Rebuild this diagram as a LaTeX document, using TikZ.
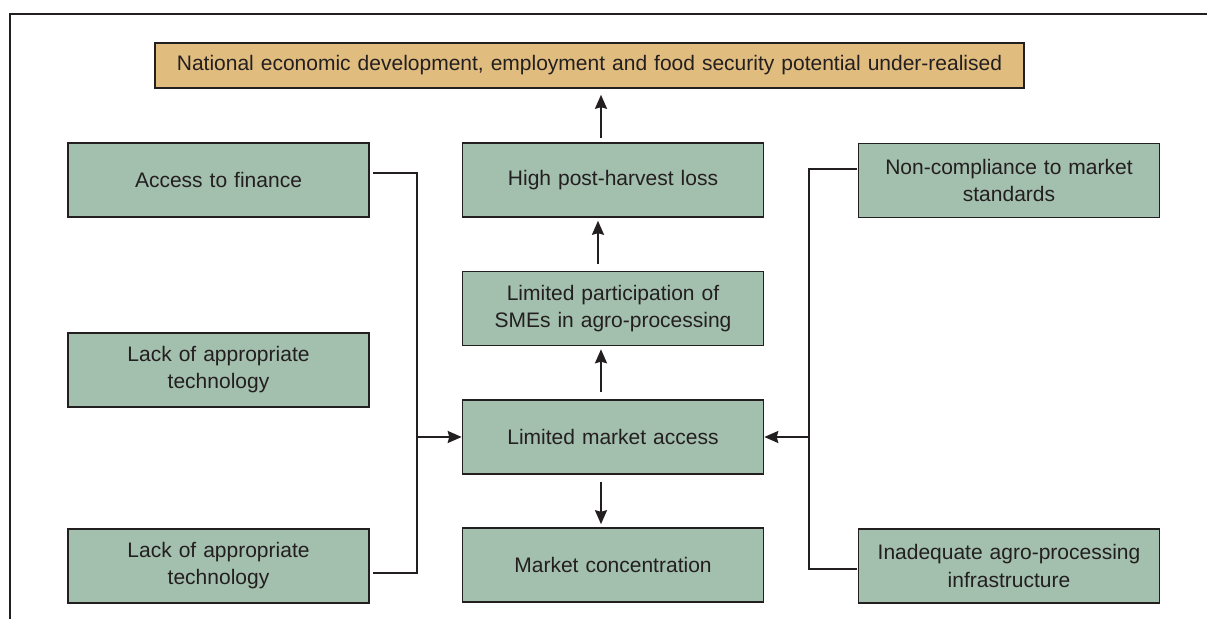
\documentclass[tikz,border=0pt]{standalone}
\usepackage{fontspec}
\setmainfont{Liberation Sans}
\usetikzlibrary{arrows.meta}
\definecolor{boxgreen}{RGB}{163,191,173}
\definecolor{boxtan}{RGB}{224,188,126}
\definecolor{inkgrey}{RGB}{35,31,32}
\begin{document}
\begin{tikzpicture}[
	x=0.5pt, y=-0.5pt,
	font=\fontsize{10.5}{13.5}\selectfont,
	text=inkgrey,
	cause/.style={draw=inkgrey, line width=0.8pt, fill=boxgreen, minimum width=150.5pt, minimum height=37pt, text width=140pt, align=center, inner sep=0pt},
	impact/.style={cause, fill=boxtan, minimum width=434.5pt, minimum height=22.5pt, text width=430pt},
	link/.style={draw=inkgrey, line width=1pt},
	flow/.style={link, -{Stealth[length=7pt,width=6pt,inset=0.8pt]}}]
   \useasboundingbox (0,0) rectangle (1207,619);
   \draw[inkgrey, line width=0.8pt] (10,619) -- (10,14) -- (1207,14);
   \node[impact] (potential) at (589.5,65.5) {National economic development, employment and food security potential under-realised};
   \node[cause] (finance) at (218.5,180) {Access to finance};
   \node[cause] (techa) at (218.5,370) {Lack of appropriate\\technology};
   \node[cause] (techb) at (218.5,566) {Lack of appropriate\\technology};
   \node[cause] (loss) at (613,180) {High post-harvest loss};
   \node[cause] (smes) at (613,308.5) {Limited participation of\\SMEs in agro-processing};
   \node[cause] (access) at (613,437) {Limited market access};
   \node[cause] (concentration) at (613,565) {Market concentration};
   \node[cause] (standards) at (1009,180.5) {Non-compliance to market\\standards};
   \node[cause] (infra) at (1009,566) {Inadequate agro-processing\\infrastructure};
   \coordinate (ljoin) at (417,437);
   \coordinate (rjoin) at (809,437);
   \draw[link] ([shift={(1.5pt,3.5pt)}]finance.east) -| (ljoin) |- ([shift={(1.5pt,-3.5pt)}]techb.east);
   \draw[flow] (ljoin) -- (access.west);
   \draw[link] ([shift={(-0.5pt,5.75pt)}]standards.west) -| (rjoin) |- ([shift={(-0.5pt,-1.5pt)}]infra.west);
   \draw[flow] (rjoin) -- (access.east);
   \draw[flow, shorten <=3.5pt, shorten >=1.5pt] ([xshift=-6pt]access.north) -- ([xshift=-6pt]smes.south);
   \draw[flow, shorten <=3.5pt, shorten >=1.5pt] ([xshift=-7.5pt]smes.north) -- ([xshift=-7.5pt]loss.south);
   \draw[flow, shorten <=2pt, shorten >=3pt] ([xshift=-6pt]loss.north) -- ([xshift=-6pt]loss.north |- potential.south);
   \draw[flow, shorten <=3.5pt, shorten >=1.5pt] ([xshift=-6pt]access.south) -- ([xshift=-6pt]concentration.north);
\end{tikzpicture}
\end{document}
